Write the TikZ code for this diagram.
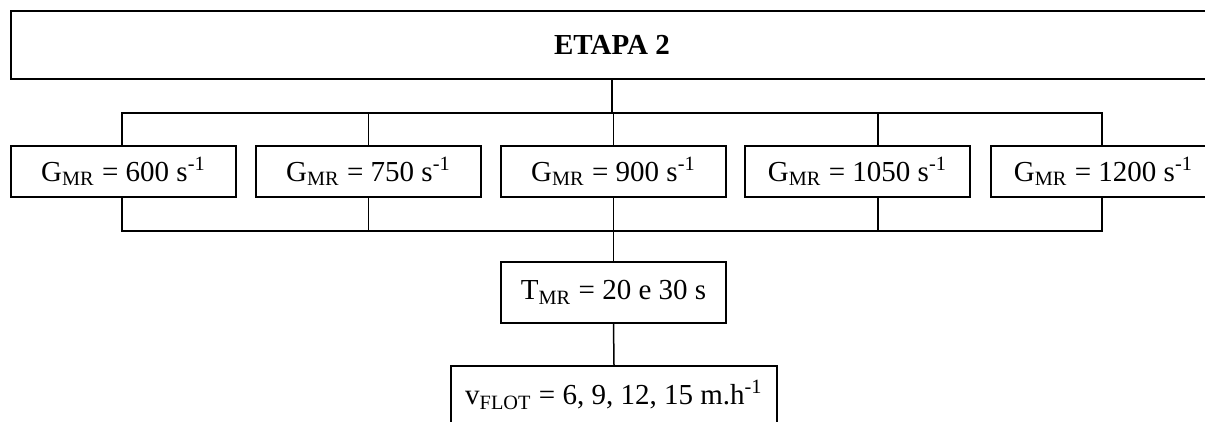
\documentclass[tikz,border=0pt]{standalone}
\usepackage{fontspec}
\setmainfont{Liberation Serif}
\usetikzlibrary{positioning}

\begin{document}
\begin{tikzpicture}[
    x=0.4pt, y=-0.4pt,
    every node/.style={font=\fontsize{11.6pt}{14pt}\selectfont},
    box/.style={draw, line width=0.6pt, inner sep=0pt,
        minimum width=90pt, minimum height=20.4pt},
    link/.style={line width=0.6pt}]
    \clip (0,0) rectangle (1205,421);

    \node[box, minimum width=480.8pt, minimum height=27.2pt] (etapa) at (612,45) {\textbf{ETAPA 2}};

    \foreach \n/\x/\g in {1/123.5/600, 2/368.5/750, 3/613.5/900, 4/857.5/1050, 5/1103.5/1200}
        \node[box] (g\n) at (\x,171.5) {G\textsubscript{MR} = \g\ s\textsuperscript{-1}};

    \node[box, minimum height=24.4pt] (tmr) at (613.5,292.5) {T\textsubscript{MR} = 20 e 30 s};
    \node[box, minimum width=130.4pt, minimum height=23.2pt] (vflot) at (614,395)
        {v\textsubscript{FLOT} = 6, 9, 12, 15 m.h\textsuperscript{-1}};

    \coordinate (bustop) at (612,113);
    \coordinate (busbot) at (612,231);

    % upper branch
    \draw[link] (etapa.south) -- (bustop);
    \draw[link] ([xshift=-0.6pt]g1.north) |- (bustop) -| ([xshift=-0.6pt]g5.north);
    \draw[link] (g2.north) -- (g2.north |- bustop);
    \draw[link] (g3.north) -- (g3.north |- bustop);
    \draw[link] ([xshift=8.2pt]g4.north) -- ([xshift=8.2pt]g4.north |- bustop);

    % lower branch
    \draw[link] ([xshift=-0.6pt]g1.south) |- (busbot) -| ([xshift=-0.6pt]g5.south);
    \draw[link] (g2.south) -- (g2.south |- busbot);
    \draw[link] ([xshift=8.2pt]g4.south) -- ([xshift=8.2pt]g4.south |- busbot);
    \draw[link] (g3.south) -- (tmr.north);
    \draw[link] (tmr.south) -- (vflot.north);
\end{tikzpicture}
\end{document}
